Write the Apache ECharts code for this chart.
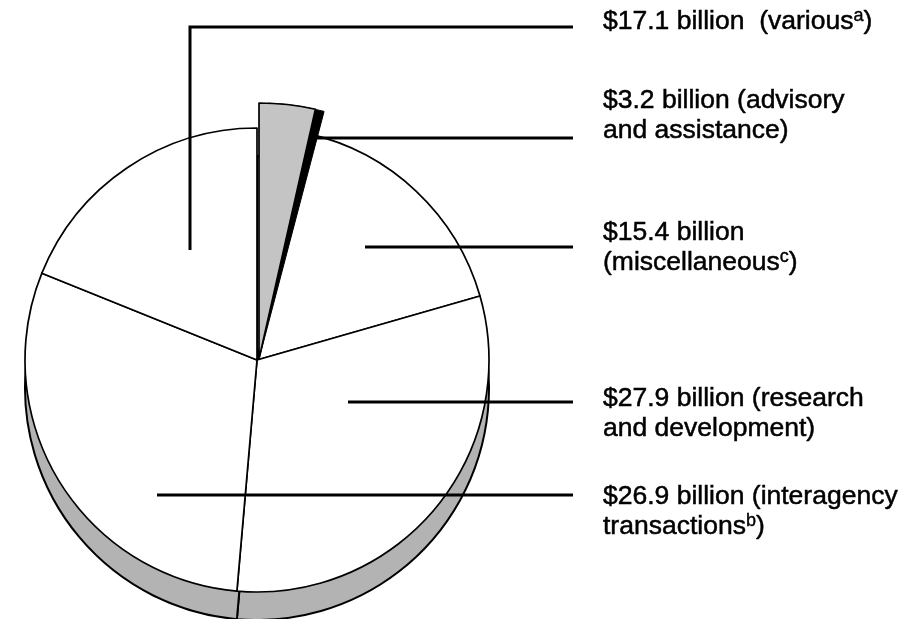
<!DOCTYPE html>
<html>
<head>
<meta charset="utf-8">
<script src="https://cdn.jsdelivr.net/npm/echarts@6/dist/echarts.min.js"></script>
<style>
  html, body { margin: 0; padding: 0; background: #fff; }
  #chart { width: 912px; height: 619px; }
</style>
</head>
<body>
<div id="chart"></div>
<script>
// slices, clockwise from 12 o'clock
const names = ['advisory and assistance', 'miscellaneous', 'research and development', 'interagency transactions', 'various'];
const values = [3.2, 15.4, 27.9, 26.9, 17.1];
const labelTails = [
    ' (advisory\nand assistance)',
    '\n(miscellaneous{sup|c})',
    ' (research\nand development)',
    ' (interagency\ntransactions{sup|b})',
    '  (various{sup|a})'
];

// where the labels and their leader lines sit (pixels)
const labelPos = [
    {x: 603, y: 86, line: [[302, 138], [450, 138], [573, 138]]},
    {x: 603, y: 218, line: [[365, 247], [470, 247], [573, 247]]},
    {x: 603, y: 384, line: [[348, 402], [460, 402], [573, 402]]},
    {x: 603, y: 482, line: [[157, 495], [360, 495], [573, 495]]},
    {x: 603, y: 7, line: [[190, 250], [190, 27], [573, 27]]}
];

const exploded = 0; // advisory slice is pulled out

const chart = echarts.init(document.getElementById('chart'));

function pieData(fill, onlyExploded) {
    return names.map((n, i) => ({
        name: n,
        value: values[i],
        itemStyle: (onlyExploded && i !== exploded)
            ? {color: 'transparent', borderWidth: 0}
            : {color: fill}
    }));
}

const font = 'Liberation Sans, Arial, sans-serif';

const option = {
    animation: false,
    backgroundColor: '#fff',
    series: [
        {
            // side of the disc
            type: 'pie', z: 1, silent: true,
            center: [257, 388], radius: 232,
            startAngle: 90, clockwise: true,
            label: {show: false}, labelLine: {show: false},
            itemStyle: {borderColor: '#000', borderWidth: 2},
            data: pieData('#b3b3b3', false)
        },
        {
            // top face
            type: 'pie', z: 2, silent: true,
            center: [257, 360], radius: 232,
            startAngle: 90, clockwise: true,
            label: {show: false}, labelLine: {show: false},
            itemStyle: {borderColor: '#000', borderWidth: 1.7},
            data: pieData('#fff', false).map((d, i) => i === exploded ? {...d, itemStyle: {color: 'transparent', borderWidth: 0}} : d)
        },
        {
            // dark edge of the pulled-out slice
            type: 'pie', z: 3, silent: true,
            center: [259, 359], radius: 256,
            startAngle: 88, clockwise: true,
            label: {show: false}, labelLine: {show: false},
            itemStyle: {borderColor: '#000', borderWidth: 1},
            data: pieData('#000', true)
        },
        {
            // pulled-out slice + all labels
            type: 'pie', z: 4, silent: true,
            center: [259, 359], radius: 256,
            startAngle: 90, clockwise: true,
            avoidLabelOverlap: false,
            itemStyle: {borderColor: '#000', borderWidth: 1.7},
            label: {
                show: true,
                position: 'outside',
                color: '#000',
                fontFamily: font,
                fontSize: 26.5,
                lineHeight: 30,
                textBorderColor: '#000',
                textBorderWidth: 0.5,
                formatter: p => '$' + values[p.dataIndex].toFixed(1) + ' billion' + labelTails[p.dataIndex],
                rich: {
                    sup: {fontSize: 18, lineHeight: 20, verticalAlign: 'top', color: '#000',
                          fontFamily: font, textBorderColor: '#000', textBorderWidth: 0.4}
                }
            },
            labelLine: {show: true, smooth: false, lineStyle: {color: '#000', width: 3}},
            labelLayout: p => {
                const pos = labelPos[p.dataIndex];
                return {
                    x: pos.x, y: pos.y,
                    align: 'left', verticalAlign: 'top',
                    labelLinePoints: pos.line
                };
            },
            data: pieData('#c4c4c4', true)
        }
    ]
};
chart.setOption(option);
</script>
</body>
</html>
